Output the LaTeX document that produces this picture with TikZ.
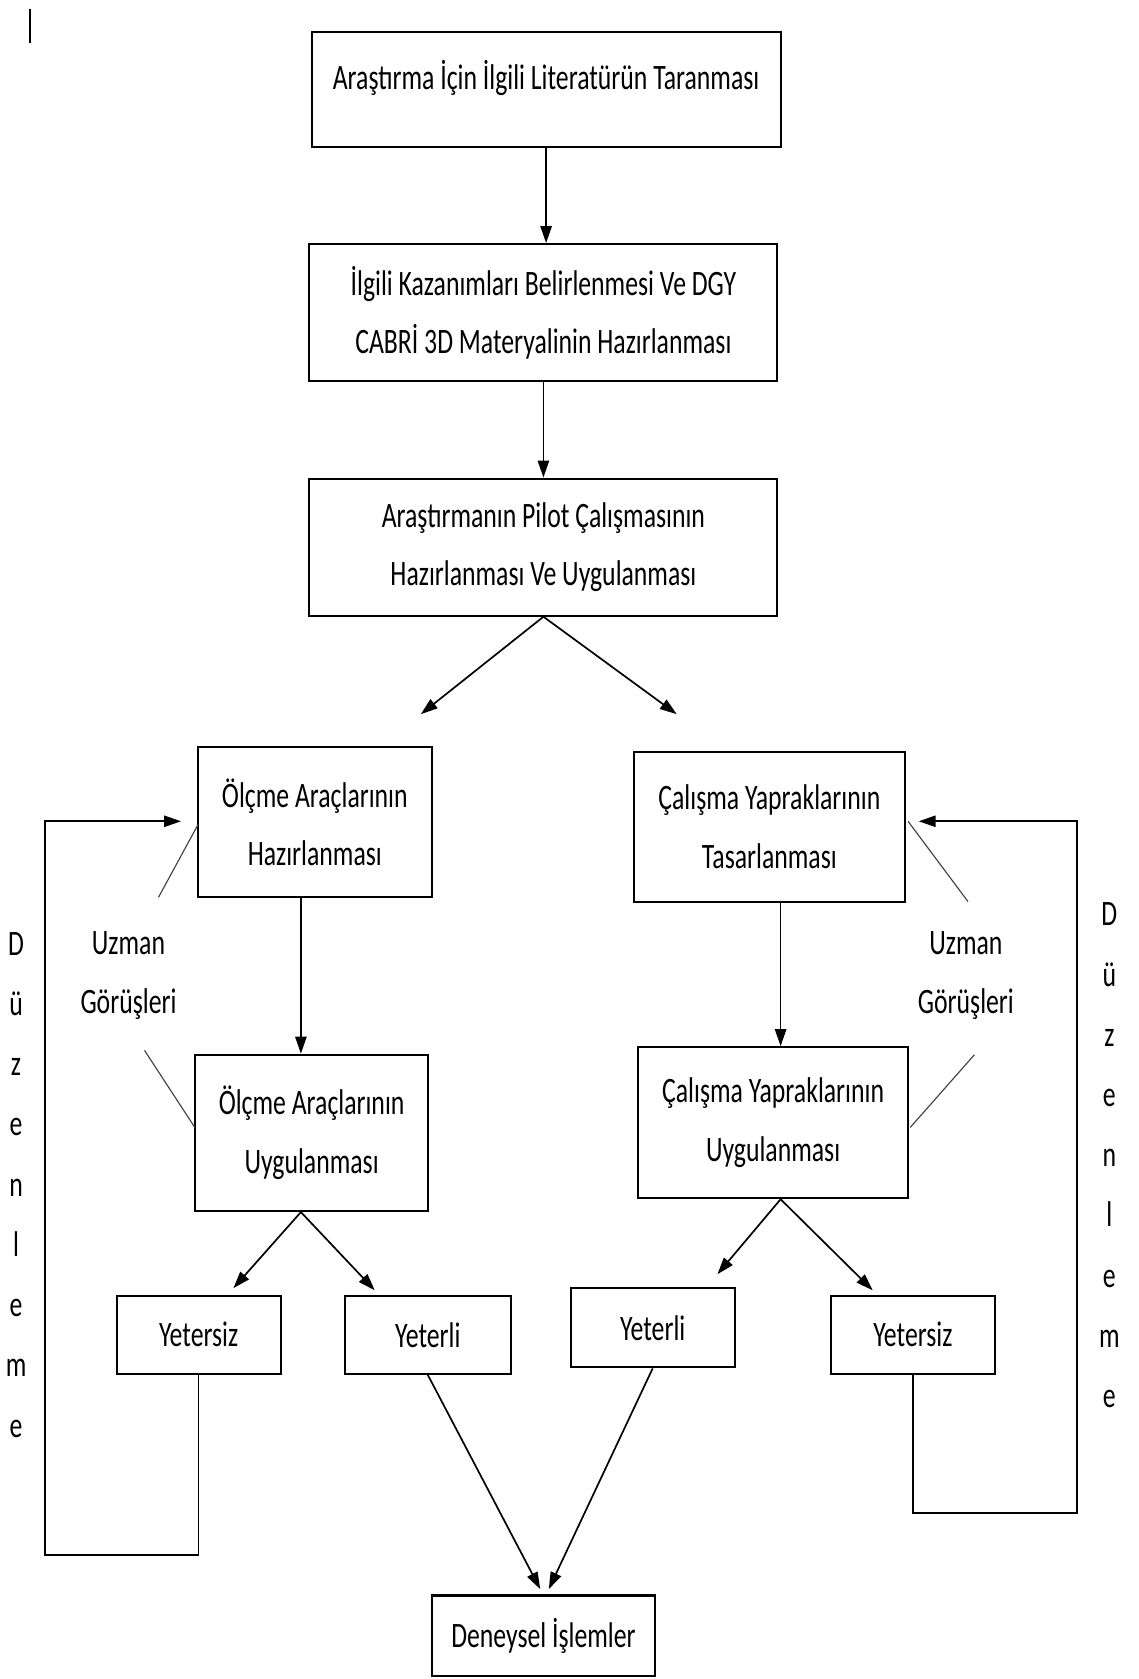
\documentclass[tikz,border=0pt]{standalone}
\usepackage{fontspec}
\setmainfont[FakeStretch=0.72]{Carlito}
\usetikzlibrary{arrows.meta}
\tikzset{
  box/.style={draw,line width=1.1pt,inner sep=0pt,align=center,
    font=\fontsize{19pt}{31pt}\selectfont},
  arr/.style={-{Triangle[length=9pt,width=6pt]},line width=0.9pt},
  uzline/.style={line width=0.6pt,black!75},
  lbl/.style={align=center,font=\fontsize{19pt}{31pt}\selectfont},
  dikey/.style={align=center,font=\fontsize{19pt}{32pt}\selectfont},
}
\begin{document}
\begin{tikzpicture}
\useasboundingbox (0,0) rectangle (21.26,31.36);
%\draw[step=1cm,gray,very thin] (0,0) grid (21,31);
\draw[line width=1.3pt] (0.56,31.2)--(0.56,30.56);
%.............................
\node[box,minimum width=8.76cm,minimum height=2.14cm,text depth=0.55cm] (lit) at (10.2,29.69) {Araştırma İçin İlgili Literatürün Taranması};
\node[box,minimum width=8.74cm,minimum height=2.56cm] (kaz) at (10.15,25.52) {İlgili Kazanımları Belirlenmesi Ve DGY\\CABRİ 3D Materyalinin Hazırlanması};
\node[box,minimum width=8.74cm,minimum height=2.56cm] (pil) at (10.15,21.14) {Araştırmanın Pilot Çalışmasının\\Hazırlanması Ve Uygulanması};
\draw[arr] (lit.south)--(lit.south|-kaz.north);
\draw[arr] (kaz.south)--(pil.north);
\coordinate (pilL) at (7.86,18.02);
\coordinate (pilR) at (12.64,18.02);
\draw[arr] (pil.south)--(pilL);
\draw[arr] (pil.south)--(pilR);
%.............................
\node[box,minimum width=4.36cm,minimum height=2.8cm] (olcH) at (5.88,16.0) {Ölçme Araçlarının\\Hazırlanması};
\node[box,minimum width=4.36cm,minimum height=2.92cm] (olcU) at (5.82,10.2) {Ölçme Araçlarının\\Uygulanması};
\draw[arr] ([xshift=-0.26cm]olcH.south)--([xshift=-0.26cm]olcH.south|-olcU.north);
\node[box,minimum width=3.06cm,minimum height=1.46cm] (yetsL) at (3.71,6.43) {Yetersiz};
\node[box,minimum width=3.1cm,minimum height=1.46cm] (yetL) at (7.99,6.43) {Yeterli};
\coordinate (olcUL) at (4.36,7.3);
\coordinate (olcUR) at (7.0,7.26);
\draw[arr] ([xshift=-0.2cm]olcU.south)--(olcUL);
\draw[arr] ([xshift=-0.2cm]olcU.south)--(olcUR);
%.............................
\node[box,minimum width=5.06cm,minimum height=2.8cm] (calT) at (14.37,15.92) {Çalışma Yapraklarının\\Tasarlanması};
\node[box,minimum width=5.04cm,minimum height=2.82cm] (calU) at (14.44,10.39) {Çalışma Yapraklarının\\Uygulanması};
\draw[arr] ([xshift=0.21cm]calT.south)--([xshift=0.21cm]calT.south|-calU.north);
\node[box,minimum width=3.06cm,minimum height=1.48cm] (yetR) at (12.19,6.56) {Yeterli};
\node[box,minimum width=3.06cm,minimum height=1.46cm] (yetsR) at (17.05,6.43) {Yetersiz};
\coordinate (calUL) at (13.4,7.56);
\coordinate (calUR) at (16.3,7.26);
\draw[arr] ([xshift=0.14cm]calU.south)--(calUL);
\draw[arr] ([xshift=0.14cm]calU.south)--(calUR);
%.............................
\node[box,minimum width=4.18cm,minimum height=1.5cm] (den) at (10.15,0.81) {Deneysel İşlemler};
\draw[arr] (yetL.south)--([xshift=-0.06cm,yshift=0.1cm]den.north);
\draw[arr] (yetR.south)--([xshift=0.1cm,yshift=0.1cm]den.north);
%.............................
\draw[arr] (yetsL.south)|-(0.84,2.32)|-([xshift=-0.3cm,yshift=0.02cm]olcH.west);
\draw[arr] (yetsR.south)|-(20.12,3.1)|-([xshift=0.24cm,yshift=0.1cm]calT.east);
%.............................
\node[lbl] (uzL) at (2.4,13.14) {Uzman\\Görüşleri};
\node[lbl] (uzR) at (18.04,13.14) {Uzman\\Görüşleri};
\coordinate (uzL1) at (2.96,14.6);
\coordinate (uzL2) at (2.7,11.74);
\coordinate (uzR1) at (18.08,14.52);
\coordinate (uzR2) at (18.2,11.66);
\draw[uzline] (uzL1)--(3.7,15.96);
\draw[uzline] (uzL2)--(3.64,10.3);
\draw[uzline] (uzR1)--(16.96,16.02);
\draw[uzline] (uzR2)--(17.0,10.3);
%.............................
\node[dikey] (duzL) at (0.3,9.23) {D\\ü\\z\\e\\n\\l\\e\\m\\e};
\node[dikey] (duzR) at (20.72,9.78) {D\\ü\\z\\e\\n\\l\\e\\m\\e};
\end{tikzpicture}
\end{document}
